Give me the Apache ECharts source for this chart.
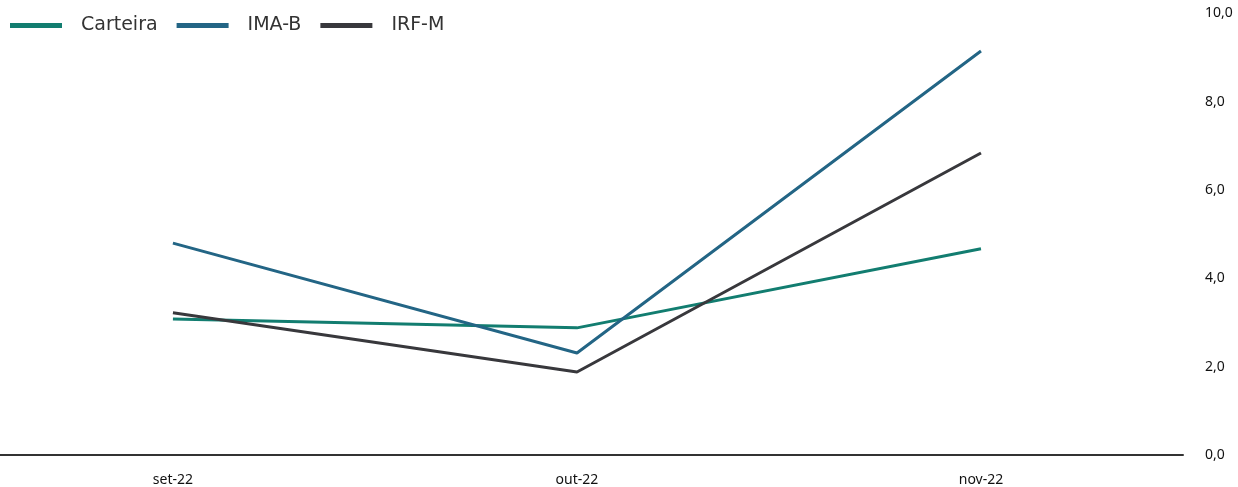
<!DOCTYPE html>
<html>
<head>
<meta charset="utf-8">
<script src="https://cdn.jsdelivr.net/npm/echarts@6/dist/echarts.min.js"></script>
<style>html,body{margin:0;padding:0;background:#fff;}#c{width:1238px;height:487px;}</style>
</head>
<body>
<div id="c"></div>
<script>
const categories = ['set-22', 'out-22', 'nov-22'];
const carteira = [3.08, 2.88, 4.67];
const imaB = [4.80, 2.31, 9.15];
const irfM = [3.22, 1.88, 6.84];
const seriesNames = ['Carteira', 'IMA-B', 'IRF-M'];
const colors = ['#127d70', '#236585', '#38383c'];

const chart = echarts.init(document.getElementById('c'));
const mk = (name, data, color) => ({
  name, type: 'line', data: data.map((v, i) => [i, v]), symbol: 'none',
  lineStyle: { width: 3, color }, itemStyle: { color }
});
chart.setOption({
  animation: false,
  legend: {
    left: 5, top: 11, icon: 'rect', itemWidth: 52, itemHeight: 5, itemGap: 19,
    textStyle: { fontFamily: 'DejaVu Sans', fontSize: 19, color: '#333', padding: [0, 0, 0, 14] },
    data: seriesNames
  },
  grid: { left: 0, right: 55, top: 13.5, bottom: 32, containLabel: false },
  xAxis: {
    type: 'value', min: -0.428, max: 2.5,
    axisLine: { show: true, onZero: false, lineStyle: { color: '#333', width: 2 } },
    axisTick: { show: false },
    splitLine: { show: false },
    axisLabel: { customValues: [0, 1, 2], fontFamily: 'Noto Sans', fontSize: 14, color: '#111', margin: 18,
      formatter: v => categories[Math.round(v)] }
  },
  yAxis: {
    type: 'value', position: 'right', min: 0, max: 10, interval: 2,
    axisLine: { show: false }, axisTick: { show: false }, splitLine: { show: false },
    axisLabel: { fontFamily: 'Noto Sans', fontSize: 14, color: '#111', margin: 22,
      formatter: v => v.toFixed(1).replace('.', ',') }
  },
  series: [mk(seriesNames[0], carteira, colors[0]), mk(seriesNames[1], imaB, colors[1]), mk(seriesNames[2], irfM, colors[2])]
});
</script>
</body>
</html>
